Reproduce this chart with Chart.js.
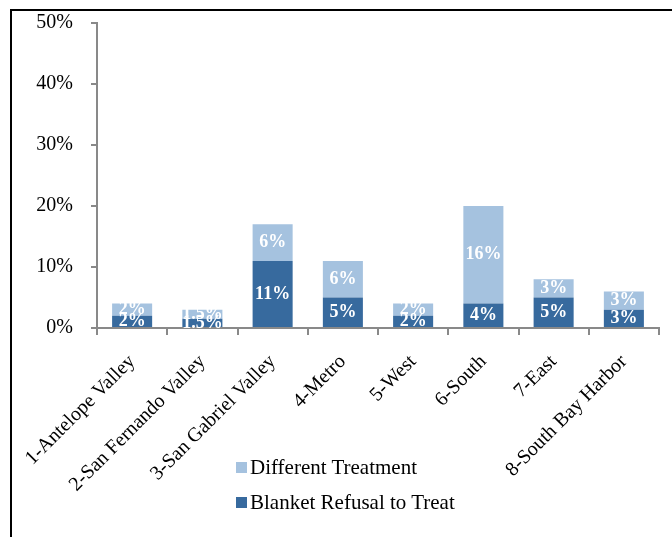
<!DOCTYPE html>
<html>
<head>
<meta charset="utf-8">
<script src="https://cdn.jsdelivr.net/npm/chart.js@4/dist/chart.umd.min.js"></script>
<style>
  body { margin: 0; background: #fff; }
  #wrap { position: relative; width: 672px; height: 537px; overflow: hidden; }
  #frame { position: absolute; left: 10px; top: 9px; width: 700px; height: 600px;
           border-left: 2px solid #000; border-top: 2px solid #000; }
  #chart { position: absolute; left: 0; top: 0; }
  #legend { position: absolute; left: 236px; top: 454px; font: 21px "Liberation Serif", serif; color: #000; }
  .item { display: flex; align-items: center; height: 26px; margin-bottom: 9px; }
  .box { width: 11px; height: 11px; margin-right: 3px; }
</style>
</head>
<body>
<div id="wrap">
  <div id="frame"></div>
  <canvas id="chart" width="672" height="537"></canvas>
  <div id="legend"></div>
</div>
<script>
const regions = ["1-Antelope Valley", "2-San Fernando Valley", "3-San Gabriel Valley", "4-Metro",
                 "5-West", "6-South", "7-East", "8-South Bay Harbor"];
const blanketRefusal = [2, 1.5, 11, 5, 2, 4, 5, 3];
const differentTreatment = [2, 1.5, 6, 6, 2, 16, 3, 3];
const yTicks = [0, 10, 20, 30, 40, 50];

const axisGray = '#898989';
const serif = '"Liberation Serif", "Times New Roman", serif';

// Value labels inside each bar segment
const barLabels = {
  id: 'barLabels',
  afterDatasetsDraw(chart) {
    const ctx = chart.ctx;
    const a = chart.chartArea;
    ctx.save();
    ctx.beginPath();
    ctx.rect(a.left, a.top, a.right - a.left, a.bottom - a.top);
    ctx.clip();
    ctx.font = 'bold 18px ' + serif;
    ctx.fillStyle = '#fff';
    ctx.textAlign = 'center';
    ctx.textBaseline = 'middle';
    chart.data.datasets.forEach((ds, i) => {
      chart.getDatasetMeta(i).data.forEach((bar, j) => {
        const p = bar.getProps(['x', 'y', 'base'], true);
        ctx.fillText(ds.data[j] + '%', p.x, (p.y + p.base) / 2);
      });
    });
    ctx.restore();
  }
};

const chart = new Chart(document.getElementById('chart'), {
  type: 'bar',
  data: {
    labels: regions,
    datasets: [
      { label: 'Blanket Refusal to Treat', data: blanketRefusal, backgroundColor: '#376A9E' },
      { label: 'Different Treatment', data: differentTreatment, backgroundColor: '#A5C2DF' }
    ]
  },
  options: {
    responsive: false,
    animation: false,
    layout: { padding: { top: 23, right: 13, left: 0, bottom: 0 } },
    datasets: { bar: { categoryPercentage: 1, barPercentage: 0.57 } },
    plugins: { legend: { display: false }, tooltip: { enabled: false } },
    scales: {
      x: {
        stacked: true,
        afterFit: s => { s.height = 209; },
        border: { color: axisGray, width: 2 },
        grid: { drawOnChartArea: false, drawTicks: true, tickLength: 7, color: axisGray, lineWidth: 2 },
        ticks: { font: { family: serif, size: 20 }, color: '#000', minRotation: 45, maxRotation: 45, padding: 15 }
      },
      y: {
        stacked: true,
        min: 0,
        max: 50,
        afterFit: s => { s.width = 97; s.paddingTop = 0; s.paddingBottom = 0; },
        afterBuildTicks: s => { s.ticks = yTicks.map(v => ({ value: v })); },
        border: { color: axisGray, width: 2 },
        grid: { drawOnChartArea: false, drawTicks: true, tickLength: 6, color: axisGray, lineWidth: 2 },
        ticks: { font: { family: serif, size: 20 }, color: '#000', padding: 18, callback: v => v + '%' }
      }
    }
  },
  plugins: [barLabels]
});

// Legend: Different Treatment listed first, as in the reference
const legend = document.getElementById('legend');
chart.data.datasets.slice().reverse().forEach(ds => {
  const item = document.createElement('div');
  item.className = 'item';
  item.innerHTML = '<span class="box" style="background:' + ds.backgroundColor + '"></span><span>' + ds.label + '</span>';
  legend.appendChild(item);
});
</script>
</body>
</html>
